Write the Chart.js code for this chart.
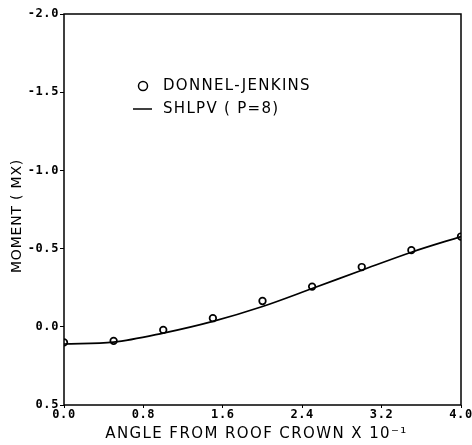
<!DOCTYPE html>
<html lang="en">
<head>
    <meta charset="UTF-8">
    <title>Moment MX vs angle</title>
    <script src="https://cdn.jsdelivr.net/npm/chart.js"></script>
    <style>
        html, body { margin: 0; padding: 0; background: #fff; }
        #wrap { width: 472px; height: 445px; }
    </style>
</head>
<body>
    <div id="wrap"><canvas id="mxChart" width="472" height="445"></canvas></div>
    <script>
        // values (angle x 10^-1, moment MX)
        var djAngle = [0.0, 0.5, 1.0, 1.5, 2.0, 2.5, 3.0, 3.5, 4.0];
        var djMoment = [0.10, 0.09, 0.02, -0.055, -0.165, -0.257, -0.382, -0.49, -0.577];
        var shlpvAngle = [0.0, 0.5, 1.0, 1.5, 2.0, 2.5, 3.0, 3.5, 4.0];
        var shlpvMoment = [0.11, 0.098, 0.04, -0.035, -0.13, -0.245, -0.362, -0.477, -0.577];
        var xTicks = [0.0, 0.8, 1.6, 2.4, 3.2, 4.0];
        var yTicks = [-2.0, -1.5, -1.0, -0.5, 0.0, 0.5];
        var legendLabels = ['DONNEL-JENKINS', 'SHLPV ( P=8)'];
        var xTitle = 'ANGLE FROM ROOF CROWN X 10\u207B\u00B9';
        var yTitle = 'MOMENT ( MX)';

        function pts(xs, ys) {
            return xs.map(function (x, i) { return { x: x, y: ys[i] }; });
        }

        var tickFont = { family: 'DejaVu Sans Mono', size: 12, weight: 'bold' };

        // frame, legend and axis titles (drawn by hand for letter spacing)
        var framePlugin = {
            id: 'frame',
            beforeDraw: function (chart) {
                chart.ctx.letterSpacing = '0.6px';
            },
            afterDraw: function (chart) {
                var c = chart.ctx, a = chart.chartArea;
                c.save();
                c.strokeStyle = '#000';
                c.fillStyle = '#000';
                c.lineWidth = 1.5;
                c.strokeRect(a.left, a.top, a.right - a.left, a.bottom - a.top);

                // legend
                var lx = a.left + 79, ly = a.top + 72;
                c.font = '15px "DejaVu Sans"';
                c.letterSpacing = '1.3px';
                c.textBaseline = 'middle';
                c.textAlign = 'left';
                c.beginPath();
                c.arc(lx, ly, 4.5, 0, Math.PI * 2);
                c.stroke();
                c.fillText(legendLabels[0], lx + 20, ly);
                c.beginPath();
                c.moveTo(lx - 10, ly + 23);
                c.lineTo(lx + 9, ly + 23);
                c.stroke();
                c.fillText(legendLabels[1], lx + 20, ly + 23);

                // x title
                c.letterSpacing = '1.4px';
                c.textAlign = 'center';
                c.fillText(xTitle, (a.left + a.right) / 2 - 6, 434);

                // y title
                c.font = '14px "DejaVu Sans"';
                c.letterSpacing = '0.8px';
                c.translate(17, 216);
                c.rotate(-Math.PI / 2);
                c.fillText(yTitle, 0, 0);
                c.restore();
                c.letterSpacing = '0px';
            }
        };

        new Chart(document.getElementById('mxChart'), {
            type: 'scatter',
            data: {
                datasets: [{
                    label: legendLabels[0],
                    data: pts(djAngle, djMoment),
                    showLine: false,
                    pointStyle: 'circle',
                    pointRadius: 3.3,
                    pointBorderWidth: 1.7,
                    pointBorderColor: '#000',
                    pointBackgroundColor: 'rgba(255,255,255,0)'
                }, {
                    label: legendLabels[1],
                    data: pts(shlpvAngle, shlpvMoment),
                    showLine: true,
                    cubicInterpolationMode: 'monotone',
                    borderColor: '#000',
                    borderWidth: 1.7,
                    pointRadius: 0
                }]
            },
            options: {
                responsive: false,
                animation: false,
                layout: { padding: { top: 14, right: 11, left: 0, bottom: 0 } },
                plugins: { legend: { display: false }, tooltip: { enabled: false } },
                scales: {
                    x: {
                        type: 'linear',
                        min: 0, max: 4,
                        afterBuildTicks: function (s) { s.ticks = xTicks.map(function (v) { return { value: v }; }); },
                        afterFit: function (s) { s.height = 40; },
                        ticks: {
                            color: '#000', font: tickFont, padding: 0, maxRotation: 0,
                            callback: function (v) { return v.toFixed(1); }
                        },
                        grid: { drawOnChartArea: false, color: '#000', tickLength: 3 },
                        border: { display: false }
                    },
                    y: {
                        min: -2, max: 0.5,
                        reverse: true,
                        afterBuildTicks: function (s) { s.ticks = yTicks.map(function (v) { return { value: v }; }); },
                        afterFit: function (s) { s.width = 64; },
                        ticks: {
                            color: '#000', font: tickFont, padding: 1,
                            callback: function (v) { return v.toFixed(1); }
                        },
                        grid: { drawOnChartArea: false, color: '#000', tickLength: 4 },
                        border: { display: false }
                    }
                }
            },
            plugins: [framePlugin]
        });
    </script>
</body>
</html>
